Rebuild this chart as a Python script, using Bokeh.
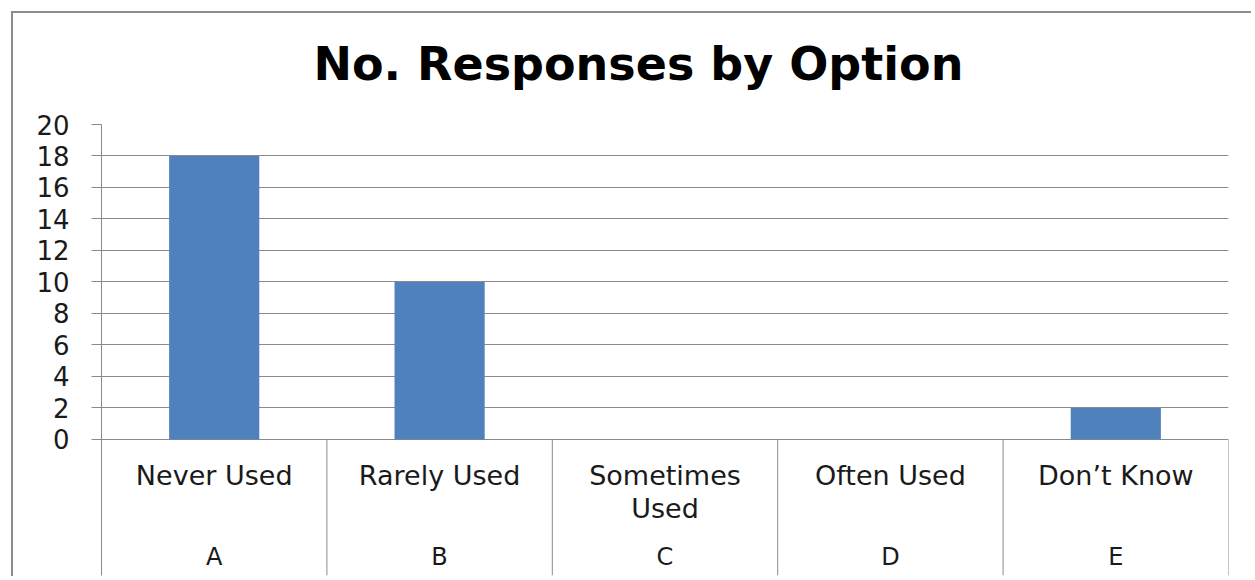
from bokeh.plotting import figure
from bokeh.models import Range1d, FixedTicker, ColumnDataSource, Title
from bokeh.core.properties import value
from bokeh.embed import file_html
from bokeh.resources import INLINE

# ---- data ----
letters = ["A", "B", "C", "D", "E"]
options = ["Never Used", "Rarely Used", "Sometimes\nUsed", "Often Used", "Don\u2019t Know"]
responses = [18, 10, 0, 0, 2]
y_ticks = [0, 2, 4, 6, 8, 10, 12, 14, 16, 18, 20]

FONT = "DejaVu Sans"
TXT = "#1a1a1a"
GRID = "#8a8a8a"

xs = [i + 0.5 for i in range(len(letters))]
src = ColumnDataSource(dict(x=xs, top=responses, letter=letters, option=options))

p = figure(width=1240, height=565, output_backend="svg", toolbar_location=None,
           x_range=Range1d(0, len(letters)), y_range=Range1d(-8.635, 20),
           min_border_left=88, min_border_right=25, min_border_top=111, min_border_bottom=3,
           title_location=None)
p.styles = {"border-left": "2px solid #8c8c8c", "border-top": "2px solid #8c8c8c",
            "margin-left": "11px", "margin-top": "11px"}
p.outline_line_color = None
p.background_fill_color = "white"
p.border_fill_color = "white"

# spacer (closest to frame), then the visible title
p.add_layout(Title(text=" ", text_font_size="15px"), "above")
p.add_layout(Title(text="No. Responses by Option", text_font=FONT, text_font_size="46px",
                   text_font_style="bold", text_color="black", align="left", offset=212),
             "above")

p.xaxis.visible = False
p.xgrid.visible = False

yax = p.yaxis[0]
yax.ticker = FixedTicker(ticks=y_ticks)
yax.minor_tick_line_color = None
yax.major_tick_in = 0
yax.major_tick_out = 10
yax.major_tick_line_color = GRID
yax.axis_line_color = GRID
yax.major_label_text_font = FONT
yax.major_label_text_font_size = "26px"
yax.major_label_text_color = TXT
yax.major_label_standoff = 22

p.ygrid.ticker = FixedTicker(ticks=y_ticks)
p.ygrid.grid_line_color = GRID
p.ygrid.grid_line_width = 1

p.vbar(x="x", top="top", bottom=0, width=0.4, source=src,
       fill_color="#4f81bd", line_color=None)

# category separators (below the baseline)
sep_x = list(range(1, len(letters) + 1))
p.segment(x0=sep_x, x1=sep_x, y0=[0] * len(sep_x), y1=[-8.635] * len(sep_x),
          line_color=GRID, line_width=1)

p.text(x="x", y=-1.3, text="option", source=src, text_font=value(FONT),
       text_font_size="27px", text_color=TXT, text_align="center",
       text_baseline="top", text_line_height=1.06)
p.text(x="x", y=-7.43, text="letter", source=src, text_font=value(FONT),
       text_font_size="24px", text_color=TXT, text_align="center",
       text_baseline="middle")

open("out.html", "w").write(file_html(p, INLINE))
